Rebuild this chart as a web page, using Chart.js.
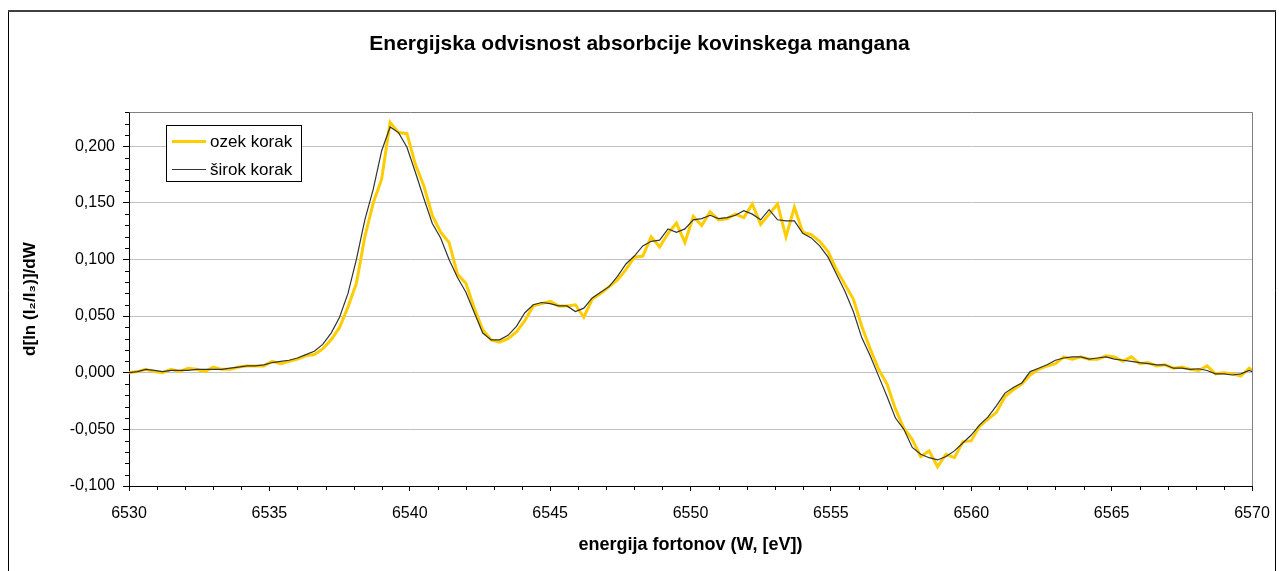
<!DOCTYPE html>
<html><head><meta charset="utf-8">
<script src="https://cdn.jsdelivr.net/npm/chart.js@4.4.1/dist/chart.umd.min.js"></script>
<style>html,body{margin:0;padding:0;background:#fff;overflow:hidden}</style>
</head><body>
<canvas id="c" width="1279" height="571"></canvas>
<script>
const energy = [
 6530.0,6530.3,6530.6,6530.9,6531.2,6531.5,6531.8,6532.1,6532.4,6532.7,
 6533.0,6533.3,6533.6,6533.9,6534.2,6534.5,6534.8,6535.1,6535.4,6535.7,
 6536.0,6536.3,6536.6,6536.9,6537.2,6537.5,6537.8,6538.1,6538.4,6538.7,
 6539.0,6539.3,6539.6,6539.9,6540.2,6540.5,6540.8,6541.1,6541.4,6541.7,
 6542.0,6542.3,6542.6,6542.9,6543.2,6543.5,6543.8,6544.1,6544.4,6544.7,
 6545.0,6545.3,6545.6,6545.9,6546.2,6546.5,6546.8,6547.1,6547.4,6547.7,
 6548.0,6548.3,6548.6,6548.9,6549.2,6549.5,6549.8,6550.1,6550.4,6550.7,
 6551.0,6551.3,6551.6,6551.9,6552.2,6552.5,6552.8,6553.1,6553.4,6553.7,
 6554.0,6554.3,6554.6,6554.9,6555.2,6555.5,6555.8,6556.1,6556.4,6556.7,
 6557.0,6557.3,6557.6,6557.9,6558.2,6558.5,6558.8,6559.1,6559.4,6559.7,
 6560.0,6560.3,6560.6,6560.9,6561.2,6561.5,6561.8,6562.1,6562.4,6562.7,
 6563.0,6563.3,6563.6,6563.9,6564.2,6564.5,6564.8,6565.1,6565.4,6565.7,
 6566.0,6566.3,6566.6,6566.9,6567.2,6567.5,6567.8,6568.1,6568.4,6568.7,
 6569.0,6569.3,6569.6,6569.9,6570.2
];
const ozekKorak = [
 0.000,0.001,0.003,0.001,0.000,0.003,0.001,0.004,0.003,0.001,
 0.005,0.003,0.003,0.005,0.006,0.006,0.006,0.010,0.008,0.010,
 0.012,0.015,0.016,0.021,0.029,0.040,0.058,0.079,0.120,0.150,
 0.171,0.221,0.212,0.211,0.184,0.165,0.139,0.124,0.115,0.087,
 0.079,0.057,0.038,0.029,0.027,0.030,0.036,0.046,0.059,0.061,
 0.063,0.059,0.059,0.060,0.049,0.065,0.070,0.076,0.082,0.091,
 0.102,0.103,0.120,0.111,0.123,0.132,0.115,0.138,0.130,0.142,
 0.135,0.136,0.140,0.137,0.149,0.131,0.140,0.149,0.120,0.146,
 0.124,0.122,0.116,0.107,0.091,0.078,0.065,0.041,0.021,0.003,
 -0.010,-0.032,-0.049,-0.059,-0.074,-0.069,-0.083,-0.072,-0.075,-0.061,
 -0.060,-0.047,-0.041,-0.035,-0.021,-0.015,-0.010,-0.002,0.003,0.006,
 0.008,0.014,0.012,0.014,0.012,0.012,0.015,0.014,0.010,0.014,
 0.008,0.009,0.006,0.007,0.004,0.005,0.003,0.002,0.006,-0.001,
 0.000,-0.001,-0.003,0.004,-0.001
];
const sirokKorak = [
 0.000,0.001,0.003,0.002,0.001,0.002,0.002,0.002,0.003,0.003,
 0.003,0.003,0.004,0.005,0.006,0.006,0.007,0.009,0.010,0.011,
 0.013,0.016,0.019,0.025,0.035,0.049,0.070,0.100,0.135,0.162,
 0.196,0.217,0.212,0.199,0.177,0.154,0.132,0.119,0.100,0.084,
 0.071,0.053,0.035,0.029,0.029,0.033,0.041,0.053,0.060,0.062,
 0.061,0.059,0.059,0.054,0.057,0.066,0.071,0.076,0.085,0.096,
 0.103,0.112,0.116,0.117,0.127,0.124,0.127,0.135,0.136,0.139,
 0.136,0.137,0.139,0.143,0.140,0.135,0.144,0.135,0.134,0.134,
 0.123,0.119,0.112,0.102,0.087,0.072,0.054,0.031,0.015,-0.003,
 -0.021,-0.040,-0.050,-0.066,-0.072,-0.075,-0.077,-0.074,-0.069,-0.062,
 -0.055,-0.046,-0.039,-0.029,-0.018,-0.013,-0.009,0.001,0.004,0.007,
 0.011,0.013,0.014,0.014,0.012,0.013,0.014,0.012,0.011,0.010,
 0.009,0.008,0.007,0.007,0.004,0.004,0.003,0.0035,0.002,-0.001,
 -0.001,-0.002,-0.001,0.002,-0.001
];
const seriesNames = ['ozek korak', 'širok korak'];
const chartTitle = 'Energijska odvisnost absorbcije kovinskega mangana';
const xTitle = 'energija fortonov (W, [eV])';
const yTitle = 'd[ln (I\u2082/I\u2083)]/dW';

const FONT = '"Liberation Sans", Arial, sans-serif';
const YELLOW = '#FFCC00';
const DARK = '#333333';

const framePlugin = {
  id: 'frame',
  beforeDraw(chart) {
    const ctx = chart.ctx;
    ctx.save();
    ctx.fillStyle = '#fff';
    ctx.fillRect(0, 0, chart.width, chart.height);
    ctx.strokeStyle = '#000';
    ctx.lineWidth = 1;
    ctx.beginPath();
    ctx.moveTo(8.5, 571); ctx.lineTo(8.5, 10.5);
    ctx.moveTo(1275.5, 10.5); ctx.lineTo(1275.5, 571);
    ctx.stroke();
    ctx.strokeStyle = '#404040';
    ctx.lineWidth = 2;
    ctx.beginPath();
    ctx.moveTo(8, 11); ctx.lineTo(1276, 11);
    ctx.stroke();
    ctx.restore();
  },
  afterDraw(chart) {
    const ctx = chart.ctx;
    const a = chart.chartArea;
    const xs = chart.scales.x, ys = chart.scales.y;
    ctx.save();
    ctx.strokeStyle = '#808080';
    ctx.lineWidth = 1;
    ctx.beginPath();
    ctx.moveTo(Math.round(a.left) + 0.5, Math.round(a.top) + 0.5);
    ctx.lineTo(Math.round(a.right) + 0.5, Math.round(a.top) + 0.5);
    ctx.lineTo(Math.round(a.right) + 0.5, Math.round(a.bottom));
    ctx.stroke();
    ctx.strokeStyle = '#000';
    ctx.beginPath();
    for (let i = -10; i <= 23; i++) {
      if (i % 5 === 0) continue;
      const y = Math.round(ys.getPixelForValue(i / 100)) + 0.5;
      ctx.moveTo(a.left - 4, y); ctx.lineTo(a.left, y);
    }
    for (let e = 6530; e <= 6570; e++) {
      if (e % 5 === 0) continue;
      const x = Math.round(xs.getPixelForValue(e)) + 0.5;
      ctx.moveTo(x, a.bottom); ctx.lineTo(x, a.bottom + 4);
    }
    ctx.stroke();
    const lx = 166.5, ly = 125.5, lw = 135, lh = 56;
    ctx.fillStyle = '#fff';
    ctx.fillRect(lx, ly, lw, lh);
    ctx.strokeStyle = '#000';
    ctx.lineWidth = 1;
    ctx.strokeRect(lx, ly, lw, lh);
    const ds = chart.data.datasets;
    const rows = [{y: 141.5, c: YELLOW, w: 3, t: ds[0].label}, {y: 169.5, c: DARK, w: 1.2, t: ds[1].label}];
    ctx.font = '17px ' + FONT;
    ctx.textBaseline = 'middle';
    ctx.textAlign = 'left';
    rows.forEach(r => {
      ctx.strokeStyle = r.c; ctx.lineWidth = r.w;
      ctx.beginPath(); ctx.moveTo(172, r.y); ctx.lineTo(206, r.y); ctx.stroke();
      ctx.fillStyle = '#000';
      ctx.fillText(r.t, 210, r.y + 1);
    });
    ctx.restore();
  }
};

new Chart(document.getElementById('c'), {
  type: 'line',
  data: {
    datasets: [
      { label: seriesNames[0], data: energy.map((e, i) => ({x: e, y: ozekKorak[i]})),
        borderColor: YELLOW, borderWidth: 3, pointRadius: 0, tension: 0, fill: false, order: 2 },
      { label: seriesNames[1], data: energy.map((e, i) => ({x: e, y: sirokKorak[i]})),
        borderColor: DARK, borderWidth: 1.2, pointRadius: 0, tension: 0, fill: false, order: 1 }
    ]
  },
  options: {
    responsive: false,
    animation: false,
    devicePixelRatio: 1,
    layout: { padding: { left: 0, right: 0, top: 0, bottom: 0 } },
    plugins: {
      legend: { display: false },
      tooltip: { enabled: false },
      title: { display: true, text: chartTitle, color: '#000',
        font: { family: FONT, size: 21, weight: 'bold' }, padding: { top: 32, bottom: 55 } }
    },
    scales: {
      x: {
        type: 'linear', min: 6530, max: 6570,
        afterFit: s => { s.height = 85; s.paddingLeft = 0; s.paddingRight = 0; },
        ticks: { stepSize: 5, padding: 13, color: '#000', maxRotation: 0, autoSkip: false,
          font: { family: FONT, size: 16 }, callback: v => String(v) },
        grid: { drawOnChartArea: false, tickColor: '#000', tickLength: 5 },
        border: { color: '#000', width: 1 },
        title: { display: true, text: xTitle, color: '#000',
          font: { family: FONT, size: 18, weight: 'bold' }, padding: { bottom: 15 } }
      },
      y: {
        type: 'linear', min: -0.1, max: 0.23,
        afterFit: s => { s.width = 129; },
        ticks: { stepSize: 0.05, includeBounds: false, padding: 8, color: '#000',
          font: { family: FONT, size: 16 },
          callback: v => (Math.abs(v) < 1e-9 ? 0 : v).toFixed(3).replace('.', ',') },
        grid: { color: '#c0c0c0', lineWidth: 1, tickColor: '#000', tickLength: 6 },
        border: { color: '#000', width: 1 },
        title: { display: true, text: yTitle, color: '#000',
          font: { family: FONT, size: 17, weight: 'bold' }, padding: { top: 20 } }
      },
      yRight: {
        type: 'linear', position: 'right', min: -0.1, max: 0.23,
        afterFit: s => { s.width = 27; },
        ticks: { display: false },
        grid: { display: false, drawTicks: false },
        border: { display: false }
      }
    }
  },
  plugins: [framePlugin]
});
</script>
</body></html>
